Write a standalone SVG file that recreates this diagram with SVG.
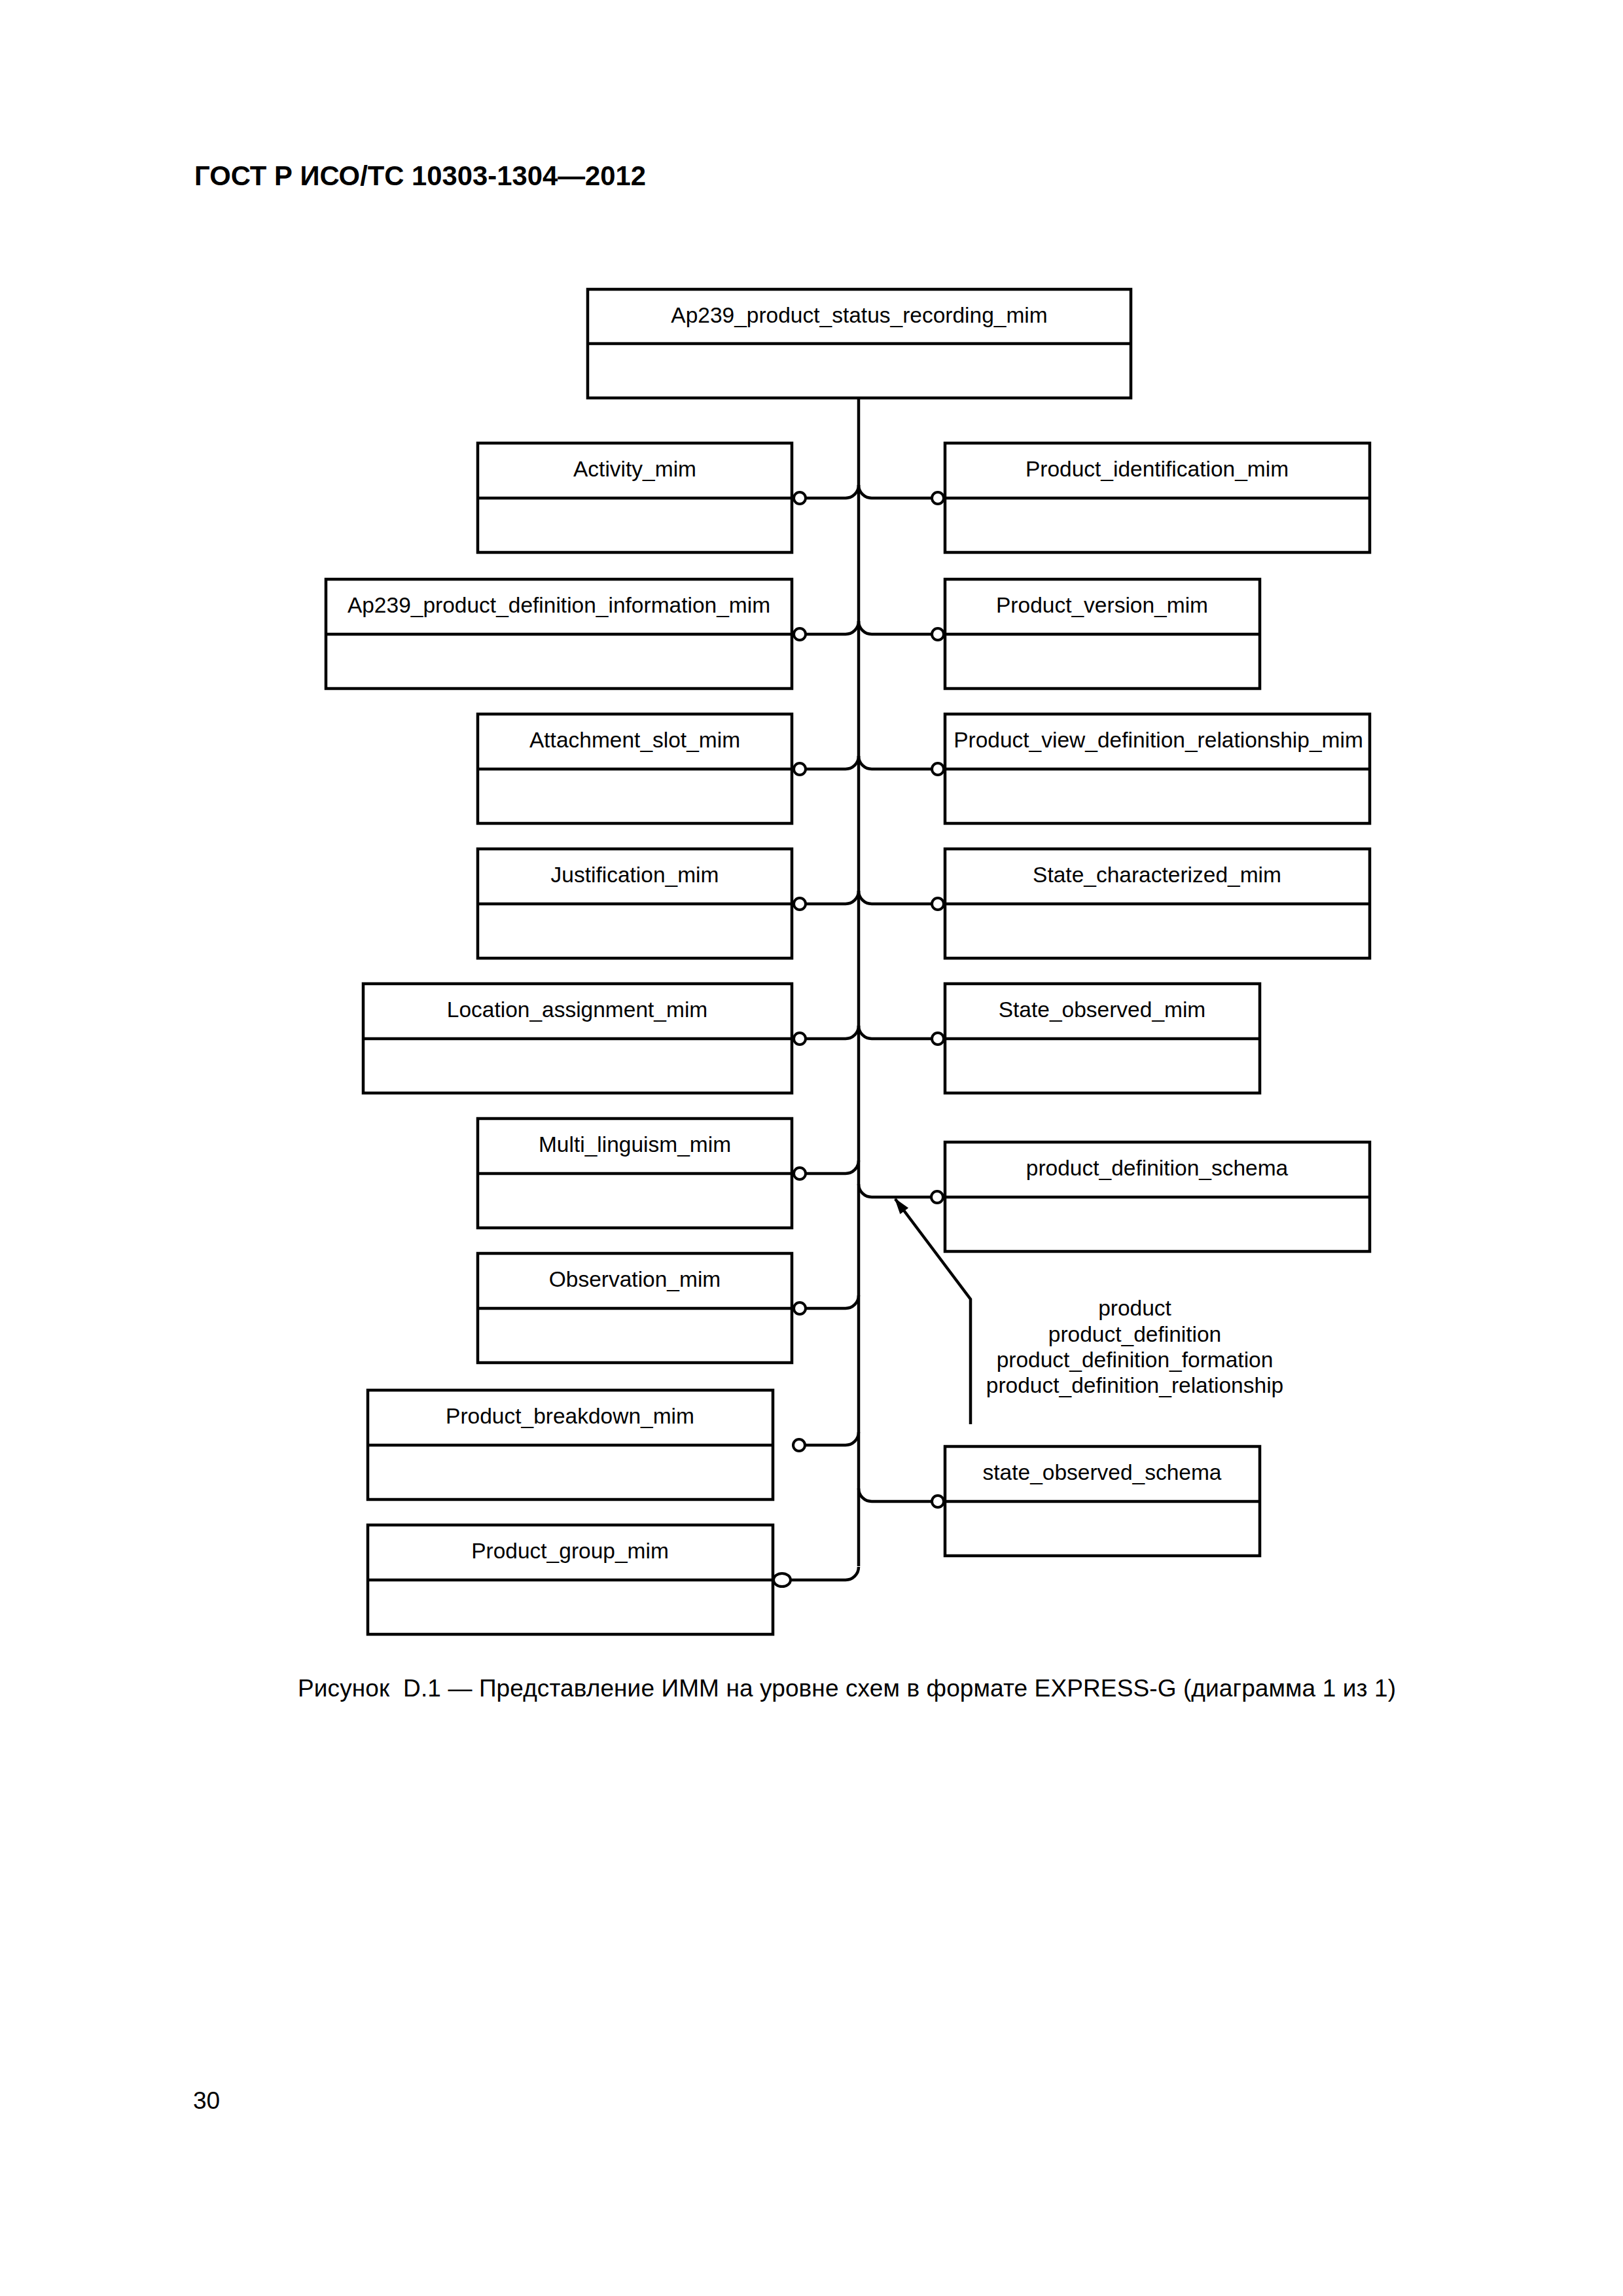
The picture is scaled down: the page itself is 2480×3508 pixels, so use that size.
<svg xmlns="http://www.w3.org/2000/svg" width="2480" height="3508" viewBox="0 0 2480 3508">
<defs>
<style>
.box{fill:none;stroke:#000;stroke-width:4.5}
.lbl{font-family:"Liberation Sans",Arial,sans-serif;font-size:33.5px;text-anchor:middle;fill:#000}
.con{fill:none;stroke:#000;stroke-width:4.5}
.dot{fill:#fff;stroke:#000;stroke-width:4}
.txt{font-family:"Liberation Sans",Arial,sans-serif;fill:#000}
</style>
<marker id="ah" viewBox="0 0 25 16" refX="23" refY="8" markerWidth="25" markerHeight="16" markerUnits="userSpaceOnUse" orient="auto">
<path d="M0,0 L25,8 L0,16 z" fill="#000"/>
</marker>
</defs>
<rect width="2480" height="3508" fill="#fff"/>
<text class="txt" x="297" y="283" font-size="41.8" font-weight="bold">ГОСТ Р ИСО/ТС 10303-1304—2012</text>

<g id="connectors">
<path class="con" d="M1312 608 V2393"/>
<path class="con" d="M1231 761 H1292 A20 20 0 0 0 1312 741"/>
<path class="con" d="M1231 969 H1292 A20 20 0 0 0 1312 949"/>
<path class="con" d="M1231 1175 H1292 A20 20 0 0 0 1312 1155"/>
<path class="con" d="M1231 1381 H1292 A20 20 0 0 0 1312 1361"/>
<path class="con" d="M1231 1587 H1292 A20 20 0 0 0 1312 1567"/>
<path class="con" d="M1231 1793 H1292 A20 20 0 0 0 1312 1773"/>
<path class="con" d="M1231 1999 H1292 A20 20 0 0 0 1312 1979"/>
<path class="con" d="M1231 2208 H1292 A20 20 0 0 0 1312 2188"/>
<path class="con" d="M1206 2414 H1292 A20 20 0 0 0 1312 2394"/>
<path class="con" d="M1312 741 A20 20 0 0 0 1332 761 H1424"/>
<path class="con" d="M1312 949 A20 20 0 0 0 1332 969 H1424"/>
<path class="con" d="M1312 1155 A20 20 0 0 0 1332 1175 H1424"/>
<path class="con" d="M1312 1361 A20 20 0 0 0 1332 1381 H1424"/>
<path class="con" d="M1312 1567 A20 20 0 0 0 1332 1587 H1424"/>
<path class="con" d="M1312 1809 A20 20 0 0 0 1332 1829 H1424"/>
<path class="con" d="M1312 2274 A20 20 0 0 0 1332 2294 H1424"/>
<circle class="dot" cx="1222" cy="761" r="9"/>
<circle class="dot" cx="1222" cy="969" r="9"/>
<circle class="dot" cx="1222" cy="1175" r="9"/>
<circle class="dot" cx="1222" cy="1381" r="9"/>
<circle class="dot" cx="1222" cy="1587" r="9"/>
<circle class="dot" cx="1222" cy="1793" r="9"/>
<circle class="dot" cx="1222" cy="1999" r="9"/>
<circle class="dot" cx="1221" cy="2208" r="9"/>
<ellipse class="dot" cx="1195" cy="2414" rx="13" ry="10"/>
<circle class="dot" cx="1433" cy="761" r="9"/>
<circle class="dot" cx="1433" cy="969" r="9"/>
<circle class="dot" cx="1433" cy="1175" r="9"/>
<circle class="dot" cx="1433" cy="1381" r="9"/>
<circle class="dot" cx="1433" cy="1587" r="9"/>
<circle class="dot" cx="1432" cy="1829" r="9"/>
<circle class="dot" cx="1433" cy="2294" r="9"/>
<path class="con" d="M1483 2176 V1985 L1368 1832" marker-end="url(#ah)"/>
<g class="txt" font-size="33.5" text-anchor="middle">
<text x="1734" y="2010">product</text>
<text x="1734" y="2050">product_definition</text>
<text x="1734" y="2089">product_definition_formation</text>
<text x="1734" y="2128">product_definition_relationship</text>
</g>
</g>

<g id="n_top"><rect class="box" x="898" y="442" width="830" height="166"/><path class="box" d="M898 525 H1728"/><text class="lbl" x="1313" y="493">Ap239_product_status_recording_mim</text></g>

<g id="n_activity"><rect class="box" x="730" y="677" width="480" height="167"/><path class="box" d="M730 761 H1210"/><text class="lbl" x="970" y="728">Activity_mim</text></g>
<g id="n_ap239_pdi"><rect class="box" x="498" y="885" width="712" height="167"/><path class="box" d="M498 969 H1210"/><text class="lbl" x="854" y="936">Ap239_product_definition_information_mim</text></g>
<g id="n_attachment"><rect class="box" x="730" y="1091" width="480" height="167"/><path class="box" d="M730 1175 H1210"/><text class="lbl" x="970" y="1142">Attachment_slot_mim</text></g>
<g id="n_justification"><rect class="box" x="730" y="1297" width="480" height="167"/><path class="box" d="M730 1381 H1210"/><text class="lbl" x="970" y="1348">Justification_mim</text></g>
<g id="n_location"><rect class="box" x="555" y="1503" width="655" height="167"/><path class="box" d="M555 1587 H1210"/><text class="lbl" x="882" y="1554">Location_assignment_mim</text></g>
<g id="n_multi"><rect class="box" x="730" y="1709" width="480" height="167"/><path class="box" d="M730 1793 H1210"/><text class="lbl" x="970" y="1760">Multi_linguism_mim</text></g>
<g id="n_observation"><rect class="box" x="730" y="1915" width="480" height="167"/><path class="box" d="M730 1999 H1210"/><text class="lbl" x="970" y="1966">Observation_mim</text></g>
<g id="n_breakdown"><rect class="box" x="562" y="2124" width="619" height="167"/><path class="box" d="M562 2208 H1181"/><text class="lbl" x="871" y="2175">Product_breakdown_mim</text></g>
<g id="n_group"><rect class="box" x="562" y="2330" width="619" height="167"/><path class="box" d="M562 2414 H1181"/><text class="lbl" x="871" y="2381">Product_group_mim</text></g>

<g id="n_identification"><rect class="box" x="1444" y="677" width="649" height="167"/><path class="box" d="M1444 761 H2093"/><text class="lbl" x="1768" y="728">Product_identification_mim</text></g>
<g id="n_version"><rect class="box" x="1444" y="885" width="481" height="167"/><path class="box" d="M1444 969 H1925"/><text class="lbl" x="1684" y="936">Product_version_mim</text></g>
<g id="n_pvdr"><rect class="box" x="1444" y="1091" width="649" height="167"/><path class="box" d="M1444 1175 H2093"/><text class="lbl" x="1770" y="1142">Product_view_definition_relationship_mim</text></g>
<g id="n_state_char"><rect class="box" x="1444" y="1297" width="649" height="167"/><path class="box" d="M1444 1381 H2093"/><text class="lbl" x="1768" y="1348">State_characterized_mim</text></g>
<g id="n_state_obs"><rect class="box" x="1444" y="1503" width="481" height="167"/><path class="box" d="M1444 1587 H1925"/><text class="lbl" x="1684" y="1554">State_observed_mim</text></g>
<g id="n_pds"><rect class="box" x="1444" y="1745" width="649" height="167"/><path class="box" d="M1444 1829 H2093"/><text class="lbl" x="1768" y="1796">product_definition_schema</text></g>
<g id="n_sos"><rect class="box" x="1444" y="2210" width="481" height="167"/><path class="box" d="M1444 2294 H1925"/><text class="lbl" x="1684" y="2261">state_observed_schema</text></g>

<text class="txt" x="455" y="2592" font-size="37" textLength="1678" lengthAdjust="spacing" xml:space="preserve">Рисунок  D.1 — Представление ИММ на уровне схем в формате EXPRESS-G (диаграмма 1 из 1)</text>
<text class="txt" x="295" y="3222" font-size="37">30</text>
</svg>
